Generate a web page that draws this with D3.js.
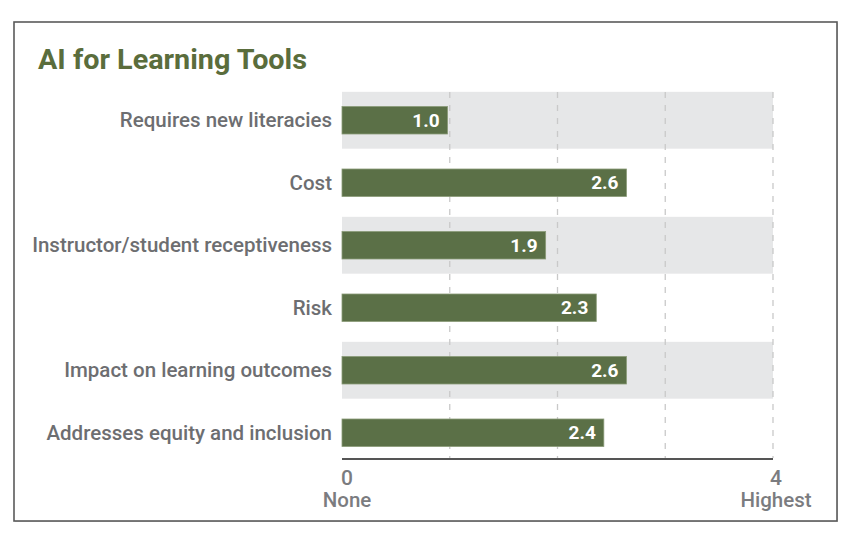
<!DOCTYPE html>
<html><head><meta charset="utf-8">
<script src="https://cdn.jsdelivr.net/npm/d3@7"></script>
<style>
html,body{margin:0;padding:0;background:#fff;}
svg{display:block;}
</style></head>
<body>
<svg id="chart" width="865" height="547"></svg>
<script>
const title = "AI for Learning Tools";
const categories = ["Requires new literacies","Cost","Instructor/student receptiveness","Risk","Impact on learning outcomes","Addresses equity and inclusion"];
const values = [0.98, 2.64, 1.89, 2.36, 2.64, 2.43];
const valueLabels = ["1.0","2.6","1.9","2.3","2.6","2.4"];
const axisTicks = [0, 4];
const axisTickNames = ["None", "Highest"];
const gridTicks = [1, 2, 3, 4];

const svg = d3.select("#chart");
const font = "Roboto, 'Noto Sans', sans-serif";

// frame
svg.append("rect").attr("x",15).attr("y",23).attr("width",823).attr("height",499)
  .attr("fill","#b0b0b0").attr("opacity",0.5);
svg.append("rect").attr("x",14).attr("y",22).attr("width",823).attr("height",499)
  .attr("fill","#fff").attr("stroke","#5a5a5a").attr("stroke-width",1.6);

svg.append("text").attr("x",38).attr("y",69).text(title)
  .attr("font-family",font).attr("font-weight",700).attr("font-size",27)
  .attr("textLength",269).attr("lengthAdjust","spacingAndGlyphs")
  .attr("fill","#5a6d3c");

const x = d3.scaleLinear().domain([0,4]).range([342,773]);
const y = d3.scaleBand().domain(categories).range([89,464]).paddingInner(0.09).paddingOuter(0.045);

// background bands
svg.append("g").selectAll("rect").data(categories.filter((d,i)=>i%2===0)).join("rect")
  .attr("x",x(0)).attr("width",x(4)-x(0))
  .attr("y",d=>y(d)).attr("height",y.bandwidth())
  .attr("fill","#e6e7e8");

// grid
svg.append("g").selectAll("line").data(gridTicks).join("line")
  .attr("x1",d=>x(d)).attr("x2",d=>x(d)).attr("y1",92).attr("y2",458)
  .attr("stroke","#c9c9c9").attr("stroke-width",1.3).attr("stroke-dasharray","6,7");

// bars
const barH = 27.5;
svg.append("g").selectAll("rect").data(categories).join("rect")
  .attr("x",x(0)).attr("width",(d,i)=>x(values[i])-x(0))
  .attr("y",d=>y(d)+y.bandwidth()/2-barH/2).attr("height",barH)
  .attr("fill","#5b7047").attr("stroke","#8a9b78").attr("stroke-width",0.8);

// value labels
svg.append("g").selectAll("text").data(categories).join("text")
  .attr("x",(d,i)=>x(values[i])-8).attr("y",d=>y(d)+y.bandwidth()/2+6.5)
  .attr("text-anchor","end").text((d,i)=>valueLabels[i])
  .attr("font-family",font).attr("font-weight",700).attr("font-size",19).attr("fill","#fff");

// category labels
svg.append("g").selectAll("text").data(categories).join("text")
  .attr("x",332).attr("y",d=>y(d)+y.bandwidth()/2+7)
  .attr("text-anchor","end").text(d=>d)
  .attr("font-family",font).attr("font-weight",500).attr("font-size",20.5).attr("fill","#6d6e71");

// axis line
svg.append("line").attr("x1",x(0)).attr("x2",x(4)).attr("y1",459).attr("y2",459)
  .attr("stroke","#555").attr("stroke-width",2.2);

// axis ticks
const tg = svg.append("g").selectAll("g").data(axisTicks).join("g")
  .attr("transform",d=>`translate(${x(d)+(d===0?5:3)},0)`);
tg.append("text").attr("y",485).attr("text-anchor","middle").text(d=>d)
  .attr("font-family",font).attr("font-weight",500).attr("font-size",21).attr("fill","#7b7c80");
tg.append("text").attr("y",507).attr("text-anchor","middle").text((d,i)=>axisTickNames[i])
  .attr("font-family",font).attr("font-weight",500).attr("font-size",20.5).attr("fill","#7b7c80");
</script>
</body></html>
